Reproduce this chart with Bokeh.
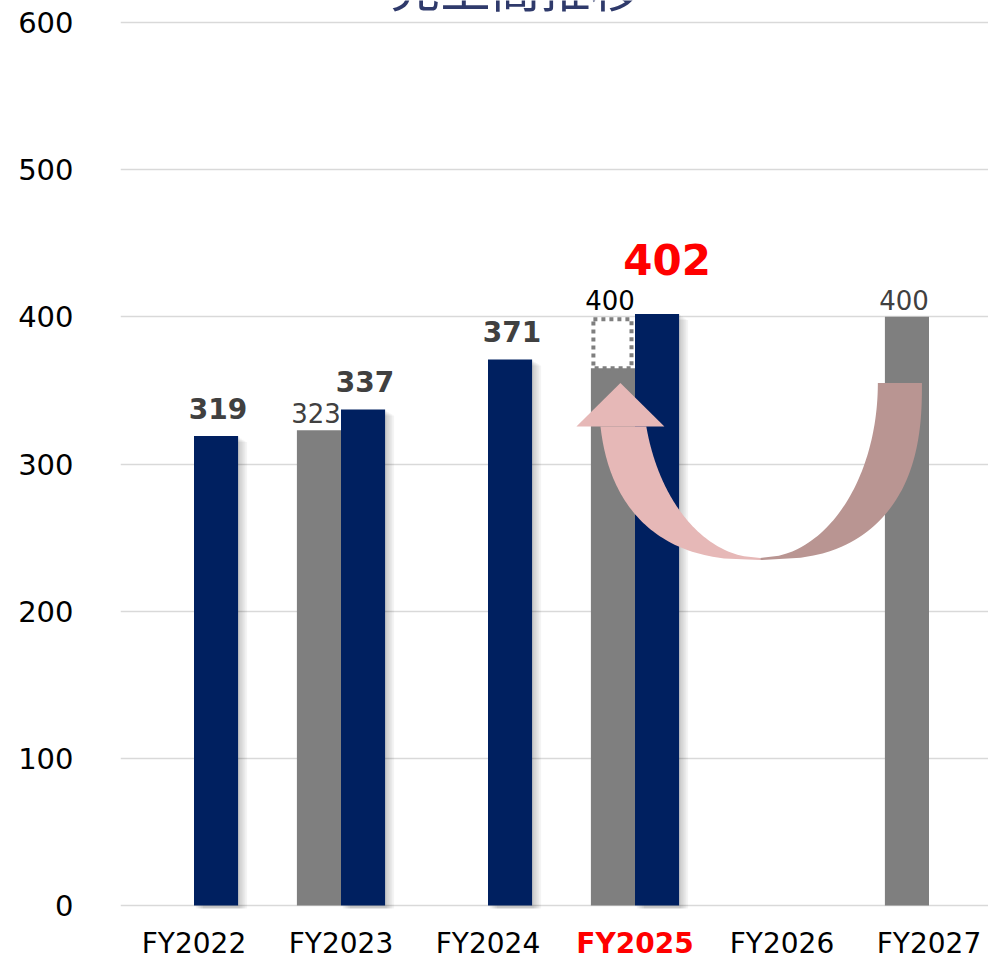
import numpy as np
from bokeh.plotting import figure
from bokeh.models import Range1d, FixedTicker
from bokeh.core.properties import value
from bokeh.embed import file_html
from bokeh.resources import INLINE

# ---------------- data ----------------
categories = ["FY2022", "FY2023", "FY2024", "FY2025", "FY2026", "FY2027"]
plan_values = [None, 323, None, 365, None, 400]          # grey bars (plan)
plan_labels = ["", "323", "", "400", "", "400"]
original_plan_fy2025 = 400                                 # dotted outline
actual_values = [319, 337, 371, 402, None, None]          # navy bars (actual)
y_ticks = [0, 100, 200, 300, 400, 500, 600]
title_text = "売上高推移"
highlight = "FY2025"

# ---------------- style / layout ----------------
NAVY = "#002060"
GRAY = "#7F7F7F"
LABEL_GRAY = "#404040"
FONT = "DejaVu Sans"
WIDTH, HEIGHT = 988, 960
LEFT = 120
BAND_PX = 147.0
TOP_600 = 22      # pixel row of value 600
BOTTOM_0 = 905    # pixel row of value 0
PX_PER_UNIT_Y = (BOTTOM_0 - TOP_600) / 600.0
BAR_W = 0.3

y_lo = -(HEIGHT - BOTTOM_0) / PX_PER_UNIT_Y
y_hi = 600 + TOP_600 / PX_PER_UNIT_Y

p = figure(width=WIDTH, height=HEIGHT,
           x_range=Range1d(0, (WIDTH - LEFT) / BAND_PX), y_range=Range1d(y_lo, y_hi),
           output_backend="svg", toolbar_location=None,
           x_axis_location=None,
           min_border_left=LEFT, min_border_right=0,
           min_border_top=0, min_border_bottom=0)
p.outline_line_color = None
p.background_fill_color = "white"
p.border_fill_color = "white"

p.yaxis.ticker = FixedTicker(ticks=y_ticks)
p.yaxis.axis_line_color = None
p.yaxis.major_tick_line_color = None
p.yaxis.minor_tick_line_color = None
p.yaxis.major_label_text_font = FONT
p.yaxis.major_label_text_font_size = "29px"
p.yaxis.major_label_text_color = "black"
p.yaxis.major_label_standoff = 41
p.ygrid.ticker = FixedTicker(ticks=y_ticks)
p.ygrid.grid_line_color = "#D9D9D9"
p.ygrid.grid_line_width = 1.5
p.xgrid.visible = False

centers = [i + 0.5 for i in range(len(categories))]
px_x = 1.0 / BAND_PX
px_y = 1.0 / PX_PER_UNIT_Y

gx = [c - BAR_W / 2 for c, v in zip(centers, plan_values) if v is not None]
gv = [v for v in plan_values if v is not None]
nx = [c + BAR_W / 2 for c, v in zip(centers, actual_values) if v is not None]
nv = [v for v in actual_values if v is not None]

# shadows of navy bars
for k in range(1, 6):
    p.vbar(x=[x + k * 1.8 * px_x for x in nx], top=[v - k * 1.2 * px_y for v in nv],
           bottom=-3 * px_y, width=BAR_W, fill_color="black", fill_alpha=0.045,
           line_color=None)

p.vbar(x=gx, top=gv, width=BAR_W, bottom=0, fill_color=GRAY, line_color=None)
p.vbar(x=nx, top=nv, width=BAR_W, bottom=0, fill_color=NAVY, line_color=None)

# dotted outline for original FY2025 plan
hi = categories.index(highlight)
bx = centers[hi] - BAR_W / 2
p.quad(left=[bx - BAR_W / 2 + 2.5 * px_x], right=[bx + BAR_W / 2 - 3.5 * px_x],
       top=[original_plan_fy2025 - 2.5 * px_y], bottom=[plan_values[hi]],
       fill_color=None, line_color=GRAY, line_width=4, line_dash="4 4")

# ---------------- curved arrow (from FY2027 plan to FY2025 plan) ----------------
cy = 355.0           # top of the arrow ends
b_out, b_in = 120.3, 118.9
left_end_y = 325.5   # base of arrow head
cx = 4.352
a_out, a_in = 1.10, 0.80

def sup(t, n):
    return (1 - np.clip(t, 0, 1) ** n) ** (1.0 / n)

# right half (darker)
t = np.linspace(0, 1, 80)
xo = cx + a_out * sup(t, 2.5)
yo = cy - b_out * t
xi = cx + a_in * sup(t, 2.0)
yi = cy - b_in * t
p.patch(np.concatenate([xo, xi[::-1]]), np.concatenate([yo, yi[::-1]]),
        fill_color="#B99592", line_color=None)

# left half (lighter)
t0o = (cy - left_end_y) / b_out
t0i = (cy - left_end_y) / b_in
to = np.linspace(t0o, 1, 80)
ti = np.linspace(t0i, 1, 80)
xo = cx - a_out * sup(to, 2.5)
yo = cy - b_out * to
xi = cx - a_in * sup(ti, 2.0)
yi = cy - b_in * ti
p.patch(np.concatenate([xo, xi[::-1]]), np.concatenate([yo, yi[::-1]]),
        fill_color="#E6B8B7", line_color=None)
shaft_c = (xo[0] + xi[0]) / 2 - 3 * px_x
head_half = 44 * px_x
p.patch([shaft_c - head_half, shaft_c, shaft_c + head_half],
        [left_end_y, cy, left_end_y], fill_color="#E6B8B7", line_color=None)

# ---------------- value labels ----------------
nl_x = [x for x, c in zip(nx, categories) if c != highlight]
nl_v = [v for v, c in zip(nv, categories[:len(nv)]) if c != highlight]
p.text(x=nl_x, y=nl_v, text=[str(v) for v in nl_v],
       text_font=value(FONT), text_font_style="bold", text_font_size="28px",
       text_color=LABEL_GRAY, text_align="center", text_baseline="alphabetic",
       x_offset=2, y_offset=-28)
p.text(x=[nx[hi]], y=[actual_values[hi]], text=[str(actual_values[hi])],
       text_font=value(FONT), text_font_style="bold", text_font_size="42px",
       text_color="#FF0000", text_align="center", text_baseline="alphabetic",
       x_offset=10, y_offset=-54)

gl_x = [c - BAR_W / 2 for c, l in zip(centers, plan_labels) if l]
gl_t = [l for l in plan_labels if l]
gl_y = [original_plan_fy2025 if categories[i] == highlight else plan_values[i]
        for i, l in enumerate(plan_labels) if l]
gl_c = ["black" if categories[i] == highlight else LABEL_GRAY
        for i, l in enumerate(plan_labels) if l]
p.text(x=gl_x, y=gl_y, text=gl_t, text_color=gl_c,
       text_font=value(FONT), text_font_size="26px",
       text_align="center", text_baseline="alphabetic",
       x_offset=-3, y_offset=-17)

# ---------------- category labels (x axis) ----------------
normal_x = [c for c, cat in zip(centers, categories) if cat != highlight]
normal_t = [cat for cat in categories if cat != highlight]
p.text(x=normal_x, y=[0] * len(normal_x), text=normal_t,
       text_font=value(FONT), text_font_size="28px", text_color="black",
       text_align="center", text_baseline="alphabetic", y_offset=38)
p.text(x=[centers[hi]], y=[0], text=[highlight],
       text_font=value(FONT), text_font_size="28px", text_font_style="bold",
       text_color="#FF0000", text_align="center", text_baseline="alphabetic",
       y_offset=38)

# ---------------- title (cut at top, as in reference) ----------------
p.text(x=[(515 - LEFT) * px_x], y=[600], text=[title_text],
       text_font=value("Noto Sans CJK JP"), text_font_size="50px",
       text_color="#2F3A6B", text_align="center", text_baseline="alphabetic",
       y_offset=-38)

open("out.html", "w").write(file_html(p, INLINE))
